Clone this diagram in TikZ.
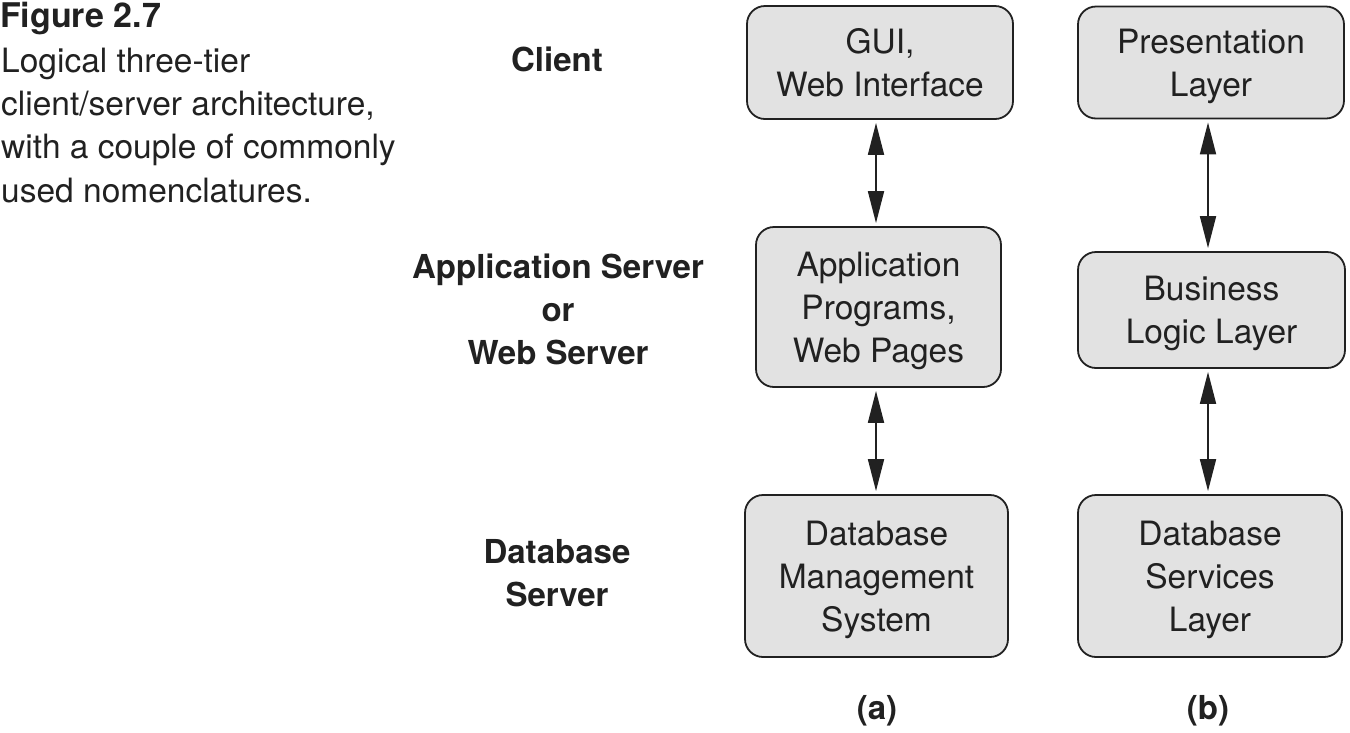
\documentclass[tikz,border=0pt]{standalone}
\usepackage{fontspec}
\setmainfont{TeX Gyre Heros}
\usetikzlibrary{arrows.meta}
\definecolor{boxfill}{gray}{0.885}
\definecolor{ink}{gray}{0.13}
\tikzset{
  tierbox/.style={draw=ink, line width=1.8pt, fill=boxfill, rounded corners=18pt,
    inner sep=0pt, align=center, text=ink, text depth=0pt,
    font=\fontsize{33.5}{43}\selectfont},
  sidelabel/.style={inner sep=0pt, align=center, text=ink,
    font=\fontsize{33}{43}\selectfont\bfseries},
  captext/.style={inner sep=0pt, anchor=base west, text=ink,
    font=\fontsize{33.5}{43}\selectfont},
  biarrow/.style={draw=ink, line width=1.8pt,
    {Triangle[length=32pt,width=16pt]}-{Triangle[length=32pt,width=16pt]},
    shorten <=3pt, shorten >=3pt}
}
\begin{document}
\begin{tikzpicture}[x=1pt,y=-1pt]
\useasboundingbox (0,0) rectangle (1350,732);

% caption
\node[captext, font=\fontsize{34}{43}\selectfont\bfseries] (fig) at (0,27) {Figure 2.7};
\node[captext] (c1) at (1,72) {Logical three-tier};
\node[captext] (c2) at (1,115) {client/server architecture,};
\node[captext] (c3) at (1,158) {with a couple of commonly};
\node[captext] (c4) at (1,202) {used nomenclatures.};

% side labels (anchor base = baseline of the last line)
\node[sidelabel, anchor=base] (lclient) at (557,71) {Client};
\node[sidelabel, anchor=base] (lapp) at (558,364) {Application Server\\or\\Web Server};
\node[sidelabel, anchor=base] (ldb) at (557,606) {Database\\Server};

% column (a)
\node[tierbox, minimum width=266pt, minimum height=113pt] (gui) at (880,62.5) {GUI,\\Web Interface};
\node[tierbox, minimum width=245pt, minimum height=160pt] (app) at (878.5,307) {Application\\Programs,\\Web Pages};
\node[tierbox, minimum width=263pt, minimum height=162pt] (dbms) at (876.5,576) {Database\\Management\\System};

% column (b)
\node[tierbox, minimum width=266pt, minimum height=112pt] (pres) at (1211,62.5) {Presentation\\Layer};
\node[tierbox, minimum width=267pt, minimum height=116pt] (bus) at (1211.5,310) {Business\\Logic Layer};
\node[tierbox, minimum width=264pt, minimum height=162pt] (dbs) at (1210,576) {Database\\Services\\Layer};

\coordinate (colA) at (876,0);
\coordinate (colB) at (1208,0);

\draw[biarrow] (gui.south -| colA) -- (app.north -| colA);
\draw[biarrow] (app.south -| colA) -- (dbms.north -| colA);
\draw[biarrow] (pres.south -| colB) -- (bus.north -| colB);
\draw[biarrow] (bus.south -| colB) -- (dbs.north -| colB);

% sub labels
\node[sidelabel, anchor=base] (la) at (877,719) {(a)};
\node[sidelabel, anchor=base] (lb) at (1208,719) {(b)};
\end{tikzpicture}
\end{document}
